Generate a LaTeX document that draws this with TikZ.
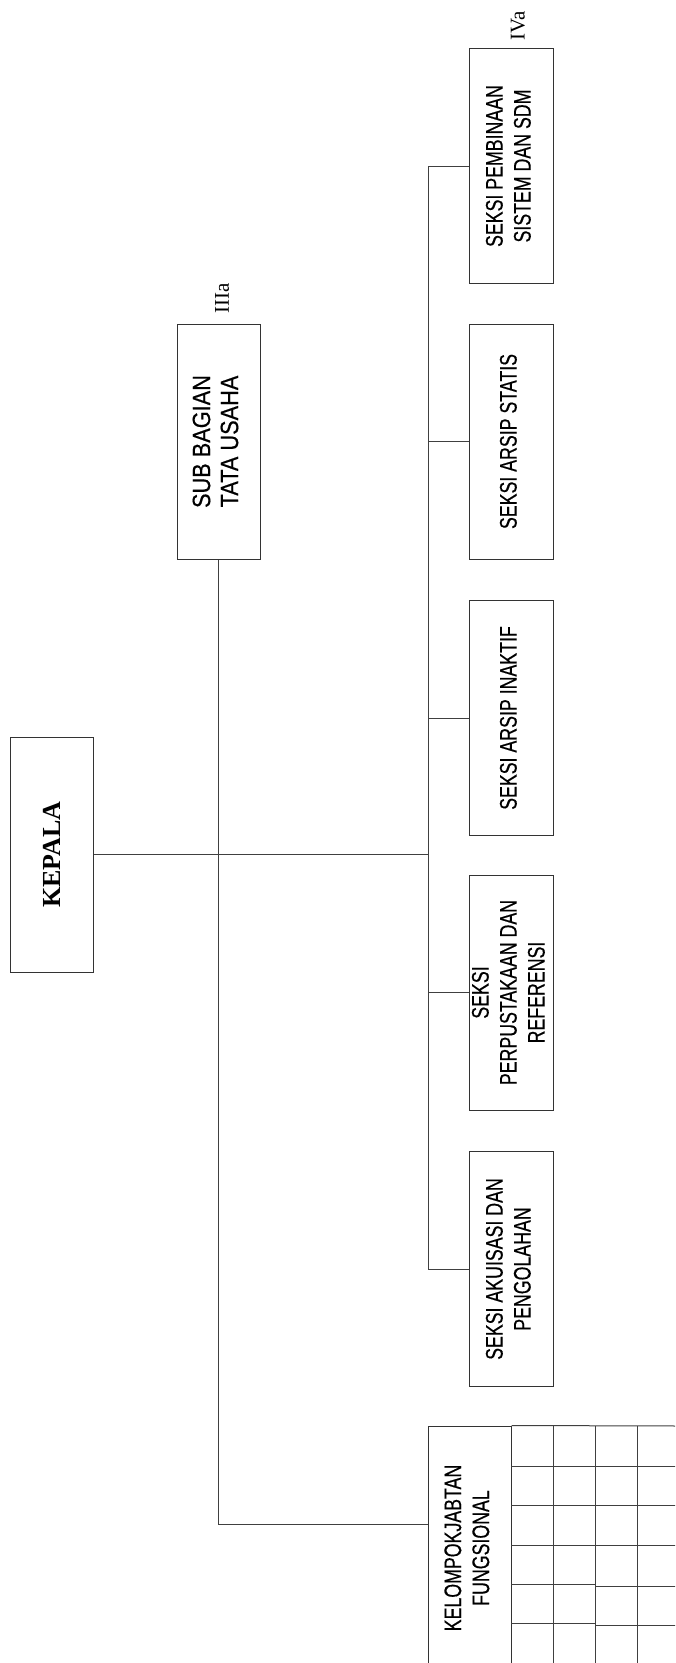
\documentclass[tikz,border=0pt]{standalone}
\usepackage{fontspec}
\usepackage{graphicx}
\newfontfamily\narrowsf[FakeStretch=0.74,FakeBold=0.4]{Liberation Sans}
\newfontfamily\subsf[FakeStretch=0.87,FakeBold=0.4]{Liberation Sans}
\newfontfamily\timesf{Liberation Serif}
\newcommand{\vtxt}[1]{\rotatebox{90}{\begin{tabular}{@{}c@{}}#1\end{tabular}}}
\begin{document}
\begin{tikzpicture}[x=1pt,y=-1pt,
  unitbox/.style={draw=black!80, line width=1pt, inner sep=0pt,
    minimum width=84pt, minimum height=235pt,
    font=\narrowsf\fontsize{24}{28}\selectfont},
  link/.style={draw=black!75, line width=1pt},
  gridline/.style={draw=black!75, line width=1pt},
  grade/.style={font=\timesf\fontsize{21}{24}\selectfont, rotate=90, inner sep=0pt}
]
\useasboundingbox (0,0) rectangle (675,1663);
\clip (0,0) rectangle (675,1663);

% boxes
\node[unitbox, minimum width=83pt, font=\timesf\bfseries\fontsize{26}{30}\selectfont] (kepala) at (51.5,854.5) {\rotatebox{90}{KEPALA}};
\node[unitbox, minimum width=83pt, font=\subsf\fontsize{25}{28}\selectfont] (sub) at (218.5,441.5) {\vtxt{SUB BAGIAN\\TATA USAHA}};
\node[unitbox] (pemb) at (511,166) {\vtxt{SEKSI PEMBINAAN\\SISTEM DAN SDM}};
\node[unitbox] (statis) at (511,441.5) {\vtxt{SEKSI ARSIP STATIS}};
\node[unitbox] (inaktif) at (511,718) {\vtxt{SEKSI ARSIP INAKTIF}};
\node[unitbox] (perpus) at (511,992.5) {\vtxt{SEKSI\\PERPUSTAKAAN DAN\\REFERENSI}};
\node[unitbox] (akui) at (511,1269) {\vtxt{SEKSI AKUISASI DAN\\PENGOLAHAN}};
\node[unitbox, minimum width=83pt, minimum height=244pt] (kel) at (469.5,1548) {\vtxt{KELOMPOKJABTAN\\FUNGSIONAL}};

% grade labels
\node[grade] (g3) at (222,298) {IIIa};
\node[grade] (g4) at (518,26) {IVa};

% connectors
\coordinate (busTop) at (428,166);
\coordinate (kelIn) at (428,1524);
\draw[link] (kepala.east) -- (kepala.east -| busTop);
\draw[link] (busTop) -- (busTop |- akui.west);
\foreach \n in {pemb,statis,inaktif,perpus,akui}
  \draw[link] (busTop |- \n.west) -- (\n.west);
\draw[link] (sub.south) |- (kelIn);

% grid to the right of the functional group box
\foreach \x in {553,595,637}
  \draw[gridline] (\x,1426) -- (\x,1670);
\draw[gridline] (kel.north east) -- (680,1426);
\foreach \y in {1466,1505,1545}
  \draw[gridline] (511,\y) -- (680,\y);
\draw[gridline] (511,1584) -- (595,1584);
\draw[gridline] (595,1586) -- (680,1586);
\draw[gridline] (511,1623) -- (595,1623);
\draw[gridline] (595,1625) -- (680,1625);
\end{tikzpicture}
\end{document}
